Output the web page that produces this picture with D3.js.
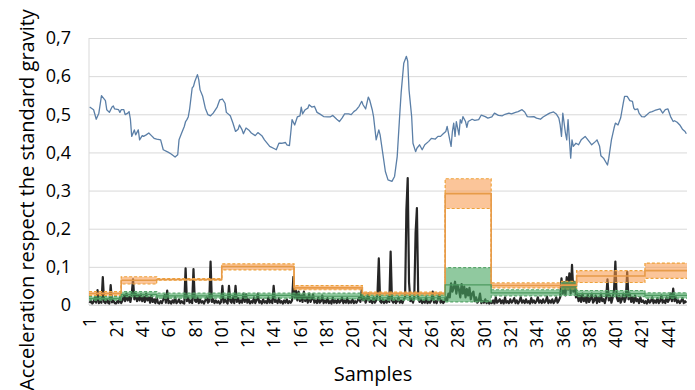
<!DOCTYPE html>
<html><head><meta charset="utf-8">
<script src="https://cdn.jsdelivr.net/npm/d3@7"></script>
<style>
body{margin:0;background:#fff}
svg{display:block}
text{font-family:'Open Sans',sans-serif;fill:#000}
</style>
</head><body>
<svg id="c" width="695" height="390"></svg>
<script>
// ---------- data ----------
const sampleCount = 455;
const xTickLabels = d3.range(1, sampleCount + 1, 20);
const yTicks = [0, 0.1, 0.2, 0.3, 0.4, 0.5, 0.6, 0.7];

const blueSamples = [1,4,6,8,10,13,14,16,18,19,20,23,24,25,27,28,30,31,32,33,35,36,38,39,41,42,44,46,48,50,52,55,57,61,63,66,68,69,71,73,74,75,76,77,79,80,81,83,84,85,87,89,91,93,95,98,100,102,104,105,108,110,112,114,115,117,118,120,122,124,127,129,132,134,138,142,143,145,147,150,151,153,154,155,157,159,161,162,163,165,167,168,170,172,174,176,179,182,184,186,189,191,193,195,198,200,202,204,206,208,209,211,213,214,216,217,219,221,222,224,226,228,231,233,235,237,238,240,242,243,244,246,247,249,250,252,254,256,259,261,264,266,268,270,272,273,275,276,277,278,279,280,282,283,284,285,287,288,289,292,294,297,299,302,304,307,309,312,315,317,320,322,325,327,330,332,334,336,339,341,344,346,349,351,354,356,358,359,360,361,363,364,365,367,368,369,371,373,375,378,381,383,386,387,389,390,392,395,396,398,400,401,403,405,407,408,410,412,414,415,416,418,419,421,423,425,427,429,431,433,435,437,439,441,443,445,446,448,450,452,454,455];
const blueValues = [.519,.512,.487,.503,.549,.536,.512,.505,.519,.522,.514,.512,.505,.512,.512,.499,.503,.507,.487,.442,.459,.446,.459,.433,.444,.442,.446,.451,.444,.437,.435,.433,.407,.400,.396,.388,.394,.433,.451,.468,.481,.486,.493,.512,.569,.573,.586,.604,.591,.564,.547,.516,.499,.496,.503,.519,.538,.540,.529,.505,.496,.477,.455,.461,.472,.459,.449,.464,.459,.451,.444,.452,.444,.433,.416,.409,.407,.424,.424,.426,.420,.418,.451,.486,.472,.493,.496,.519,.501,.512,.516,.525,.519,.521,.505,.501,.494,.493,.493,.497,.487,.481,.490,.501,.501,.499,.507,.512,.521,.534,.525,.514,.545,.538,.512,.494,.433,.459,.446,.398,.350,.328,.324,.337,.389,.503,.556,.634,.652,.639,.564,.494,.424,.402,.411,.420,.407,.420,.429,.437,.435,.442,.442,.449,.455,.468,.433,.416,.455,.477,.442,.481,.446,.486,.477,.494,.481,.466,.481,.487,.484,.486,.498,.494,.490,.493,.503,.497,.496,.500,.503,.501,.505,.507,.512,.506,.494,.493,.494,.490,.487,.493,.499,.503,.506,.501,.490,.472,.442,.503,.451,.433,.486,.385,.433,.416,.424,.420,.433,.442,.429,.420,.429,.433,.416,.391,.385,.367,.385,.433,.464,.477,.472,.490,.529,.547,.547,.536,.534,.516,.512,.514,.503,.494,.493,.499,.505,.507,.510,.512,.514,.503,.512,.514,.494,.481,.483,.479,.472,.461,.455,.449];

const blackValues = [
.005,.012,.004,.008,.02,.006,.039,.005,.01,.006,.073,.008,.005,.015,.006,.004,.052,.007,.012,.005,
.004,.01,.006,.018,.005,.012,.025,.01,.03,.012,.022,.008,.028,.067,.015,.03,.01,.025,.012,.028,
.01,.022,.008,.03,.012,.02,.006,.025,.008,.015,.005,.02,.006,.004,.01,.005,.015,.026,.006,.038,
.005,.01,.004,.012,.006,.02,.005,.008,.015,.005,.01,.006,.004,.096,.01,.02,.006,.012,.005,.094,
.012,.008,.02,.005,.015,.006,.01,.004,.012,.02,.006,.01,.114,.008,.015,.005,.012,.006,.01,.004,
.008,.05,.006,.015,.008,.004,.05,.01,.006,.02,.005,.05,.008,.018,.005,.012,.006,.03,.008,.028,
.006,.015,.004,.01,.006,.02,.005,.012,.03,.006,.01,.004,.015,.006,.01,.005,.02,.006,.012,.005,
.05,.008,.012,.005,.018,.006,.01,.004,.012,.006,.015,.005,.01,.006,.012,.074,.02,.038,.012,.035,
.01,.025,.008,.035,.01,.02,.006,.03,.008,.015,.028,.006,.012,.005,.02,.006,.01,.025,.005,.012,
.006,.018,.005,.01,.004,.02,.006,.012,.005,.015,.006,.01,.02,.005,.012,.006,.018,.005,.01,.006,
.015,.005,.01,.006,.012,.02,.008,.04,.012,.02,.006,.015,.03,.008,.012,.005,.02,.006,.012,.03,
.122,.01,.006,.015,.005,.012,.006,.02,.008,.14,.012,.006,.015,.005,.01,.02,.006,.012,.005,.015,
.02,.25,.333,.06,.01,.015,.006,.02,.19,.254,.02,.008,.015,.005,.012,.006,.02,.005,.01,.006,
.012,.035,.006,.01,.005,.015,.03,.006,.012,.005,.01,.02,.012,.03,.02,.057,.035,.045,.061,.03,
.052,.04,.02,.055,.03,.048,.02,.042,.025,.045,.015,.03,.035,.01,.02,.006,.012,.03,.005,.01,
.006,.015,.005,.01,.004,.008,.005,.012,.004,.02,.006,.01,.015,.005,.012,.004,.02,.006,.01,.005,
.015,.006,.01,.018,.005,.012,.004,.01,.02,.006,.012,.005,.015,.006,.01,.004,.018,.006,.012,.005,
.01,.02,.006,.012,.005,.015,.006,.01,.022,.005,.012,.006,.015,.005,.01,.02,.006,.012,.02,.07,
.03,.06,.025,.073,.04,.083,.03,.105,.035,.061,.02,.03,.01,.025,.008,.03,.01,.02,.006,.028,
.008,.015,.03,.006,.012,.025,.005,.02,.008,.03,.01,.015,.005,.02,.067,.012,.025,.006,.02,.04,
.114,.02,.01,.025,.006,.015,.03,.008,.02,.087,.015,.03,.008,.02,.006,.025,.01,.015,.005,.02,
.008,.012,.005,.01,.004,.015,.006,.01,.02,.005,.012,.006,.018,.005,.01,.025,.006,.012,.005,.02,
.008,.015,.03,.01,.043,.01,.02,.006,.012,.005,.01,.018,.005,.01,.006];

// segment edges (in sample units) for the piecewise mean / band series
const segmentEdges = [0.5, 25, 52, 101.5, 156.5, 208.5, 271.5, 306.5, 360, 371.5, 423.5, 455.5];
const orangeLow  = [.025,.055,.065,.092,.040,.026,.253,.045,.042,.059,.070];
const orangeMean = [.030,.065,.067,.101,.045,.030,.292,.051,.052,.076,.090];
const orangeHigh = [.035,.074,.069,.108,.051,.034,.331,.058,.062,.090,.110];
const greenLow   = [.013,.022,.018,.018,.016,.013,.008,.024,.025,.022,.018];
const greenMean  = [.017,.028,.024,.025,.023,.019,.053,.032,.042,.030,.025];
const greenHigh  = [.022,.035,.031,.031,.031,.026,.098,.040,.060,.038,.032];

// ---------- drawing ----------
const svg = d3.select('#c');
const L = 89, R = 687, T = 38, B = 305;
const x = d3.scaleLinear().domain([0.5, sampleCount + 0.5]).range([L, R]);
const y = d3.scaleLinear().domain([0, 0.7]).range([B, T]);
const fmt = v => v === 0 ? '0' : v.toFixed(1).replace('.', ',');

// gridlines + y labels
const yAxis = svg.append('g').attr('transform', `translate(${L},0)`)
  .call(d3.axisLeft(y).tickValues(yTicks).tickSize(-(R - L)).tickPadding(18).tickFormat(fmt));
yAxis.select('.domain').remove();
yAxis.selectAll('.tick line').attr('stroke', '#d9d9d9').attr('stroke-width', 1);
yAxis.selectAll('.tick text').style('font-size', '18px').attr('fill', '#000');

function stepPoints(vals) {
  const pts = [];
  vals.forEach((v, i) => { pts.push([segmentEdges[i], v]); pts.push([segmentEdges[i + 1], v]); });
  return pts;
}
function bandPoints(lo, hi) {
  const pts = [];
  lo.forEach((v, i) => {
    pts.push({s: segmentEdges[i], lo: v, hi: hi[i]});
    pts.push({s: segmentEdges[i + 1], lo: v, hi: hi[i]});
  });
  return pts;
}
const line = d3.line().x(d => x(d[0])).y(d => y(d[1]));
const area = d3.area().x(d => x(d.s)).y0(d => y(d.lo)).y1(d => y(d.hi));

// white base under orange band (hides gridlines like stacked areas)
svg.append('path').datum(bandPoints(orangeLow.map(() => 0), orangeLow))
  .attr('d', area).attr('fill', '#fff');

// axis lines
svg.append('line').attr('x1', L).attr('x2', L).attr('y1', T).attr('y2', B).attr('stroke', '#d9d9d9');
svg.append('line').attr('x1', L).attr('x2', R).attr('y1', B).attr('y2', B).attr('stroke', '#d9d9d9');

// black signal
const blackPts = blackValues.map((v, i) => [i + 1, v]);
svg.append('path').datum(blackPts).attr('d', line)
  .attr('fill', 'none').attr('stroke', '#262626').attr('stroke-width', 2.2).attr('stroke-linejoin', 'round');

// bands
svg.append('path').datum(bandPoints(orangeLow, orangeHigh)).attr('d', area)
  .attr('fill', 'rgba(247,150,70,0.55)');
svg.append('path').datum(bandPoints(greenLow, greenHigh)).attr('d', area)
  .attr('fill', 'rgba(70,165,95,0.6)');

// dashed borders
[[orangeLow, '#eea23a'], [orangeHigh, '#eea23a'], [greenLow, '#5aa66c'], [greenHigh, '#5aa66c']].forEach(([vals, c]) => {
  svg.append('path').datum(stepPoints(vals)).attr('d', line)
    .attr('fill', 'none').attr('stroke', c).attr('stroke-width', 1.2).attr('stroke-dasharray', '3,2');
});
// mean lines
svg.append('path').datum(stepPoints(orangeMean)).attr('d', line)
  .attr('fill', 'none').attr('stroke', '#e79b48').attr('stroke-width', 1.6);
svg.append('path').datum(stepPoints(greenMean)).attr('d', line)
  .attr('fill', 'none').attr('stroke', '#4c9a60').attr('stroke-width', 1.2);

// blue signal
const bluePts = blueSamples.map((s, i) => [s, blueValues[i]]);
svg.append('path').datum(bluePts).attr('d', line)
  .attr('fill', 'none').attr('stroke', '#5b7fa7').attr('stroke-width', 1.3).attr('stroke-linejoin', 'round');

// x labels
const xAxis = svg.append('g').attr('transform', `translate(0,${B})`)
  .call(d3.axisBottom(x).tickValues(xTickLabels).tickSize(0).tickFormat(d => d));
xAxis.select('.domain').remove();
xAxis.selectAll('.tick text')
  .style('font-size', '18px').attr('fill', '#000')
  .attr('text-anchor', 'end').attr('transform', 'translate(0,12) rotate(-90)')
  .attr('x', 0).attr('y', 0).attr('dy', '0.35em');

// titles
svg.append('text').attr('x', 373).attr('y', 381).attr('text-anchor', 'middle')
  .style('font-size', '20px').text('Samples');
svg.append('text').attr('transform', 'translate(34,200) rotate(-90)').attr('text-anchor', 'middle')
  .style('font-size', '20px').text('Acceleration respect the standard gravity');
</script>
</body></html>
